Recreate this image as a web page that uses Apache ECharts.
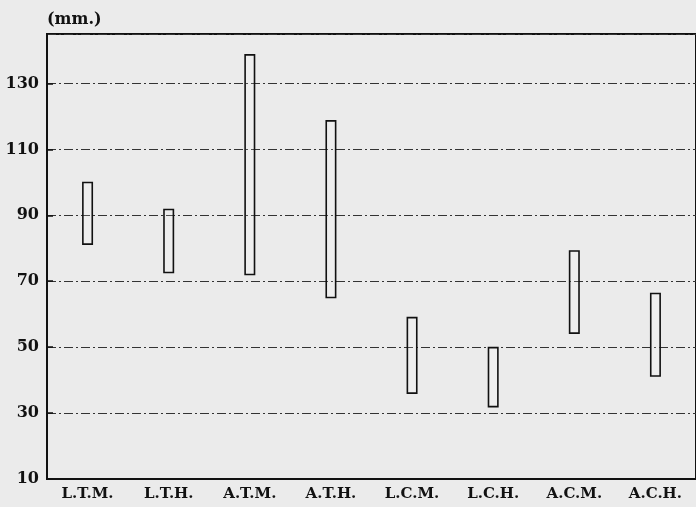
<!DOCTYPE html>
<html>
<head>
<meta charset="utf-8">
<script src="https://cdn.jsdelivr.net/npm/echarts@6/dist/echarts.min.js"></script>
<style>
  html, body { margin: 0; padding: 0; background: #ebebeb; }
  #main { width: 696px; height: 507px; }
</style>
</head>
<body>
<div id="main"></div>
<script>
var chartDom = document.getElementById('main');
var myChart = echarts.init(chartDom, null, { width: 696, height: 507 });

// groups along the bottom
var categories = ['L.T.M.', 'L.T.H.', 'A.T.M.', 'A.T.H.', 'L.C.M.', 'L.C.H.', 'A.C.M.', 'A.C.H.'];
// range of each group (mm.)
var lowValues = [81, 72.4, 71.8, 64.8, 35.8, 31.7, 54, 41];
var highValues = [100.2, 92, 138.9, 118.9, 59.2, 50.1, 79.4, 66.5];

var spans = highValues.map(function (h, i) {
    return +(h - lowValues[i]).toFixed(1);
});

var serif = '"DejaVu Serif", "Liberation Serif", serif';

var option = {
    backgroundColor: '#ebebeb',
    animation: false,
    title: {
        text: '(mm.)',
        left: 42,
        top: 7,
        textStyle: {
            fontFamily: serif,
            fontWeight: 'bold',
            fontSize: 16,
            color: '#111'
        }
    },
    grid: {
        left: 47,
        right: -5,
        top: 34,
        bottom: 28,
        show: true,
        borderColor: '#111',
        borderWidth: 2,
        backgroundColor: 'transparent'
    },
    xAxis: {
        type: 'category',
        data: categories,
        axisLine: { lineStyle: { color: '#111', width: 2 } },
        axisTick: { inside: true, alignWithLabel: true, length: 7, lineStyle: { color: '#111', width: 1.5 } },
        axisLabel: {
            color: '#111',
            fontFamily: serif,
            fontWeight: 'bold',
            fontSize: 15,
            margin: 8
        },
        splitLine: { show: false }
    },
    yAxis: {
        type: 'value',
        min: 10,
        max: 145,
        interval: 20,
        axisLine: { show: true, lineStyle: { color: '#111', width: 2 } },
        axisTick: { show: true, inside: true, length: 6, lineStyle: { color: '#111', width: 1.5 } },
        axisLabel: {
            color: '#111',
            fontFamily: serif,
            fontWeight: 'bold',
            fontSize: 16,
            margin: 8,
            showMaxLabel: false
        },
        splitLine: {
            show: true,
            lineStyle: { color: '#333', width: 1, type: [9, 3, 2, 3] }
        }
    },
    series: [
        {
            type: 'bar',
            stack: 'range',
            data: lowValues,
            barWidth: 11,
            itemStyle: { color: 'transparent' },
            silent: true
        },
        {
            type: 'bar',
            stack: 'range',
            data: spans,
            barWidth: 11,
            itemStyle: {
                color: 'rgba(255,255,255,0.15)',
                borderColor: '#111',
                borderWidth: 1.6
            }
        }
    ]
};

myChart.setOption(option);
</script>
</body>
</html>
